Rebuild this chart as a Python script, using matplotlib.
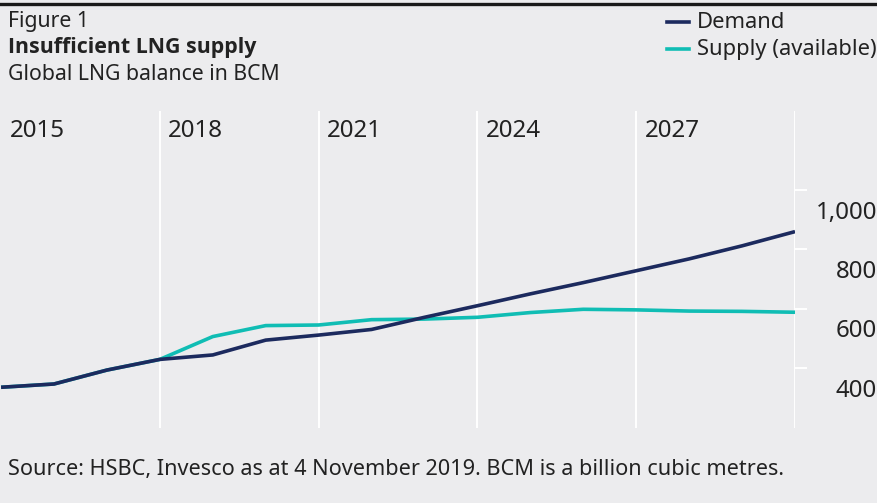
import matplotlib.pyplot as plt
import matplotlib.transforms as mtransforms
from matplotlib.lines import Line2D

# values (BCM)
years = list(range(2015, 2031))
demand = [335, 346, 393, 429, 444, 494, 511, 530, 571, 610, 650, 688, 728, 768, 812, 860]
supply = [335, 346, 393, 429, 506, 543, 545, 563, 565, 571, 587, 598, 596, 592, 591, 588]
grid_years = [2018, 2021, 2024, 2027, 2030]
year_labels = [2015, 2018, 2021, 2024, 2027]
y_ticks = [400, 600, 800, 1000]

BG = '#ececee'
NAVY = '#1c2a5e'
TEAL = '#10bdb4'
TXT = '#222222'

plt.rcParams['font.family'] = ['Noto Sans', 'DejaVu Sans']

W, H = 877, 503
fig = plt.figure(figsize=(W / 100, H / 100), dpi=100, facecolor=BG)

# top rule
fig.add_artist(Line2D([0, 1], [1 - 3.5 / H, 1 - 3.5 / H], color='#1a1a1a', lw=2.4,
                      transform=fig.transFigure))

# headings
fig.text(8 / W, 1 - 21 / H, 'Figure 1', fontsize=15.3, color=TXT, va='center', ha='left')
fig.text(8 / W, 1 - 48 / H, 'Insufficient LNG supply', fontsize=15.4,
         family=['Open Sans', 'Lato', 'DejaVu Sans'], color=TXT,
         va='center', ha='left', fontweight='bold')
fig.text(8 / W, 1 - 75 / H, 'Global LNG balance in BCM', fontsize=15.3, color=TXT,
         va='center', ha='left')

# legend drawn by hand
for i, (lab, col) in enumerate([('Demand', NAVY), ('Supply (available)', TEAL)]):
    yy = 1 - (22 + 27 * i) / H
    fig.add_artist(Line2D([667 / W, 689 / W], [yy, yy], color=col, lw=2.6,
                          transform=fig.transFigure))
    fig.text(697 / W, yy, lab, fontsize=15.8, color=TXT, va='center', ha='left')

# plot area
ax = fig.add_axes([0, 1 - 428 / H, 795 / W, 317 / H])
ax.set_facecolor(BG)
ax.set_xlim(2014.98, 2030)
ax.set_ylim(197.6, 1266.8)
for s in ax.spines.values():
    s.set_visible(False)

for gy in grid_years:
    ax.axvline(gy, color='white', lw=1.4, zorder=1)

ax.plot(years, supply, color=TEAL, lw=2.6, zorder=3, solid_capstyle='butt')
ax.plot(years, demand, color=NAVY, lw=2.6, zorder=4, solid_capstyle='butt')

for yl in year_labels:
    ax.text(yl + 0.16, 0.938, str(yl), transform=ax.get_xaxis_transform(),
            fontsize=17.4, color=TXT, va='center', ha='left')

ax.set_xticks([])
ax.yaxis.tick_right()
ax.set_yticks(y_ticks)
ax.set_yticklabels([])
ax.tick_params(axis='y', colors='white', length=8.6, width=1.4, direction='out')

# y labels sit just below their tick marks
lab_tr = mtransforms.blended_transform_factory(fig.transFigure, ax.transData)
for yt in y_ticks:
    ax.text(877 / W, yt - 76, f'{yt:,}', transform=lab_tr, fontsize=17.3, color=TXT,
            va='center', ha='right', clip_on=False)

fig.text(8 / W, 1 - 470 / H,
         'Source: HSBC, Invesco as at 4 November 2019. BCM is a billion cubic metres.',
         fontsize=15.6, color=TXT, va='center', ha='left')

fig.savefig('out.png', dpi=100, facecolor=BG)
